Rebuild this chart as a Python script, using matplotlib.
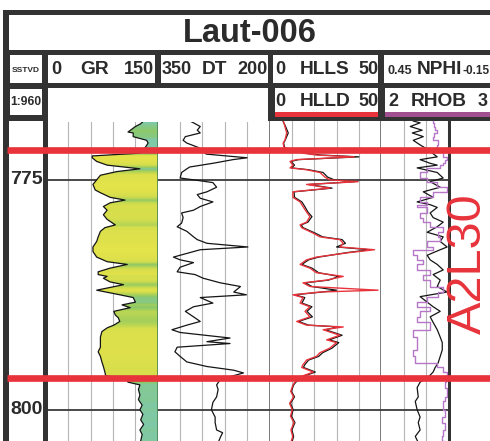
import numpy as np
import matplotlib
matplotlib.use("Agg")
import matplotlib.pyplot as plt
from matplotlib.patches import Rectangle
from matplotlib.colors import LinearSegmentedColormap, Normalize
from matplotlib import font_manager as fm

# ---------------- data ----------------
well_name = "Laut-006"
depth_ref = "SSTVD"
scale_label = "1:960"
depth_ticks = [775, 800]
depth_limits = [768.6, 803.4]
zone_name = "A2L30"
zone_tops = [771.7, 796.5]

gr_depth = [768.6, 768.9, 769.2, 769.5, 769.8, 769.9, 770.3, 770.7, 771.0, 771.5, 772.1, 772.4, 772.6, 773.0,
            773.4, 773.6, 773.8, 774.1, 774.5, 775.0, 775.5, 776.1, 776.4, 776.9, 777.2, 777.5, 777.9, 778.3,
            778.8, 779.3, 779.9, 780.2, 780.6, 781.2, 781.7, 782.3, 782.8, 783.4, 783.9, 784.2, 784.6, 785.0,
            785.3, 785.5, 785.7, 786.1, 786.4, 786.7, 787.0, 787.5, 787.8, 788.3, 788.6, 788.9, 789.3, 789.7,
            790.0, 790.4, 790.8, 791.1, 791.5, 792.1, 792.6, 793.2, 793.7, 794.2, 794.8, 795.3, 795.9, 796.3,
            796.7, 797.0, 797.3, 797.8, 798.4, 798.9, 799.5, 800.0, 800.5, 801.1, 801.6, 802.2, 802.7, 803.4]
gr = [131, 127, 120, 115, 110, 117, 117, 135, 137, 133, 125, 62, 62, 68, 82, 104, 126, 95, 73, 68, 63, 66,
      73, 86, 106, 86, 77, 82, 77, 82, 93, 79, 73, 70, 68, 63, 63, 68, 82, 109, 86, 70, 70, 82, 77, 86, 104,
      86, 68, 99, 117, 120, 102, 113, 91, 93, 97, 99, 91, 82, 75, 73, 73, 73, 70, 73, 75, 77, 79, 80, 108,
      110, 126, 124, 126, 124, 129, 126, 130, 127, 131, 126, 129, 127]

dt_depth = [768.6, 768.8, 769.2, 769.6, 769.9, 770.3, 770.7, 771.0, 771.5, 772.2, 772.6, 772.8, 773.2, 773.6,
            773.8, 774.2, 774.8, 775.1, 775.3, 775.8, 776.3, 776.6, 777.0, 777.4, 777.9, 778.3, 778.6, 779.1,
            779.7, 780.1, 780.6, 781.2, 781.5, 781.9, 782.3, 782.6, 783.4, 783.7, 784.0, 784.5, 785.0, 785.3,
            785.7, 786.2, 786.6, 787.2, 787.5, 787.8, 788.4, 788.8, 789.3, 789.9, 790.4, 790.8, 791.3, 791.6,
            792.2, 792.6, 792.8, 793.2, 793.7, 794.2, 794.8, 795.3, 795.7, 796.0, 796.7, 797.3, 797.8, 798.6,
            799.2, 800.0, 800.8, 801.4, 802.2, 802.5, 803.0, 803.4]
dt = [307, 302, 293, 297, 293, 313, 316, 311, 295, 285, 230, 249, 276, 307, 311, 318, 320, 293, 276, 271,
      284, 297, 293, 276, 293, 302, 318, 316, 318, 324, 311, 302, 297, 284, 229, 293, 329, 320, 302, 320,
      324, 300, 289, 266, 239, 248, 231, 293, 276, 302, 313, 302, 293, 311, 331, 320, 253, 284, 253, 324,
      327, 320, 311, 284, 248, 235, 266, 271, 269, 271, 276, 278, 273, 273, 271, 263, 266, 268]

res_depth = [768.6, 769.2, 769.9, 770.7, 771.0, 771.5, 772.1, 772.3, 772.5, 772.8, 773.0, 773.4, 773.7, 773.9,
             774.2, 774.7, 775.0, 775.2, 775.5, 775.9, 776.3, 776.9, 777.4, 777.9, 778.5, 779.0, 779.6, 779.9,
             780.2, 780.8, 781.2, 781.5, 781.9, 782.3, 782.6, 782.9, 783.4, 783.7, 784.2, 784.6, 785.1, 785.5,
             785.9, 786.2, 786.6, 787.0, 787.2, 787.5, 787.8, 788.4, 788.8, 789.3, 789.9, 790.4, 790.8, 791.0,
             791.3, 791.9, 792.4, 792.7, 793.3, 793.8, 794.2, 794.6, 795.1, 795.4, 795.9, 796.4, 797.0, 797.3,
             798.0, 798.6, 799.3, 800.0, 800.7, 801.4, 802.2, 802.9, 803.4]
hlld = [6.2, 6.9, 7.7, 6.9, 6.1, 6.5, 15, 21, 38, 12, 9.2, 10.5, 9.2, 16.6, 22.6, 24.8, 27, 39.7, 16.6, 27,
        10.5, 10.5, 13.7, 15, 16.6, 18.1, 16.6, 13.7, 14.4, 19.6, 22.6, 31.5, 33, 31.5, 47, 36, 21, 16.6, 13.7,
        18.1, 21, 33, 25.6, 15, 18.1, 48.6, 22.6, 10.5, 15, 13.7, 18.1, 15.9, 18.1, 12.2, 16.6, 33, 24, 31.5,
        25.6, 30, 27, 22.6, 21, 16.6, 15, 14.4, 19.6, 14, 11.4, 10.5, 9.5, 10.8, 9.0, 10.2, 9.4, 11.0, 9.6,
        10.4, 9.8]
hlls = [6.0, 7.2, 8.4, 7.0, 6.3, 6.8, 16, 23, 40, 13, 9.6, 11.2, 9.8, 17.5, 24.0, 26.0, 29, 38.0, 17.5, 28,
        11.0, 11.2, 14.5, 15.8, 17.2, 19.0, 17.2, 14.2, 15.0, 20.5, 23.8, 32.5, 34, 30.0, 45, 35, 22, 17.5,
        14.5, 19.0, 22, 31, 26.5, 16, 19.0, 30.0, 23.5, 11.2, 15.8, 14.5, 19.0, 16.8, 19.2, 13.0, 17.5, 31, 25,
        32.5, 26.8, 31, 28, 23.8, 22, 17.5, 15.8, 15.2, 20.5, 14.8, 11.8, 10.8, 9.8, 11.2, 9.4, 10.6, 9.8,
        11.4, 10.0, 10.8, 10.2]

nd_depth = [768.6, 768.8, 769.2, 769.6, 769.9, 770.3, 770.7, 771.2, 771.7, 772.5, 772.8, 773.2, 773.4, 773.7,
            774.2, 774.8, 775.2, 775.8, 776.3, 776.9, 777.4, 777.7, 778.0, 778.6, 779.1, 779.6, 780.1, 780.7,
            781.2, 781.7, 782.3, 782.6, 783.2, 783.7, 784.2, 784.8, 785.3, 785.9, 786.6, 787.2, 787.7, 788.3,
            788.8, 789.3, 789.9, 790.5, 791.3, 792.1, 792.7, 793.5, 794.2, 794.9, 795.4, 795.9, 796.5, 797.0,
            797.6, 798.6, 799.1, 800.0, 800.8, 801.4, 802.2, 802.9, 803.4]
nphi = [0.278, 0.241, 0.294, 0.230, 0.283, 0.224, 0.278, 0.241, 0.200, 0.149, 0.241, 0.187, 0.149, 0.257,
        0.149, 0.117, 0.187, 0.133, 0.224, 0.171, 0.257, 0.187, 0.149, 0.187, 0.171, 0.117, 0.149, 0.203,
        0.117, 0.133, 0.096, 0.133, 0.203, 0.187, 0.149, 0.117, 0.171, 0.133, 0.149, 0.096, 0.241, 0.203,
        0.171, 0.133, 0.187, 0.171, 0.149, 0.133, 0.122, 0.122, 0.133, 0.144, 0.160, 0.171, 0.200, 0.241,
        0.257, 0.251, 0.267, 0.257, 0.241, 0.251, 0.241, 0.267, 0.255]
rhob = [2.465, 2.47, 2.483, 2.501, 2.47, 2.465, 2.510, 2.501, 2.55, 2.591, 2.573, 2.555, 2.528, 2.412, 2.349,
        2.412, 2.501, 2.591, 2.465, 2.349, 2.412, 2.322, 2.412, 2.349, 2.376, 2.439, 2.555, 2.510, 2.528,
        2.412, 2.465, 2.286, 2.322, 2.376, 2.322, 2.439, 2.376, 2.439, 2.555, 2.510, 2.412, 2.322, 2.439,
        2.349, 2.322, 2.439, 2.286, 2.322, 2.322, 2.286, 2.304, 2.501, 2.555, 2.591, 2.58, 2.573, 2.591,
        2.573, 2.555, 2.573, 2.546, 2.573, 2.555, 2.546, 2.56]

# header labels: (left, name, right)
row1_labels = [("0", "GR", "150"), ("350", "DT", "200"), ("0", "HLLS", "50"), ("0.45", "NPHI", "-0.15")]
row2_labels = [("0", "HLLD", "50"), ("2", "RHOB", "3")]
gr_range = (0, 150)
dt_range = (350, 200)
res_range = (0, 50)
nphi_range = (0.45, -0.15)
rhob_range = (2, 3)

# ---------------- style ----------------
W, H = 490, 441
DARK = "#333333"
TXT = "#2b2b2b"
RED = "#e8333b"
PURPLE = "#a0508f"
RHOB_C = "#b677c9"
GRID = "#b5b5b5"

_names = {f.name for f in fm.fontManager.ttflist}
if "Liberation Sans Narrow" in _names:
    HF = ["Liberation Sans Narrow", "DejaVu Sans"]
    K = 1.2
else:
    HF = ["Liberation Sans", "DejaVu Sans"]
    K = 1.0

fig = plt.figure(figsize=(W / 100, H / 100), dpi=100)
fig.patch.set_facecolor("white")


def rect_px(x0, y0, x1, y1):
    return [x0 / W, 1 - y1 / H, (x1 - x0) / W, (y1 - y0) / H]


TOP, BOT = 121, 441
track_x = [46, 157.8, 269.5, 381.2, 492.9]


def make_track(x0, x1, xlim):
    ax = fig.add_axes(rect_px(x0, TOP, x1, BOT))
    ax.set_xlim(*xlim)
    ax.set_ylim(depth_limits[1], depth_limits[0])
    ax.set_axis_off()
    ax.set_zorder(1)
    for v in np.linspace(xlim[0], xlim[1], 6)[1:-1]:
        ax.axvline(v, color=GRID, lw=0.8, zorder=1)
    for d in depth_ticks:
        ax.axhline(d, color="#3a3a3a", lw=1.3, zorder=1.5)
    return ax


# GR track
ax_gr = make_track(track_x[0], track_x[1], gr_range)
gr_cmap = LinearSegmentedColormap.from_list(
    "grfill", [(0.0, "#e6e44a"), (0.3, "#d6de4c"), (0.55, "#a6d05a"), (0.75, "#8cc86c"), (1.0, "#7fc9a8")])
gr_norm = Normalize(60, 130)
dgrid = np.linspace(depth_limits[0], depth_limits[1], 900)
gval = np.interp(dgrid, gr_depth, gr)
rgba = gr_cmap(gr_norm(gval))[:, None, :]
im = ax_gr.imshow(rgba, extent=[gr_range[0], gr_range[1], depth_limits[1], depth_limits[0]],
                  aspect="auto", interpolation="nearest", zorder=2)
poly = ax_gr.fill_betweenx(gr_depth, gr, gr_range[1], facecolor="none", edgecolor="none")
im.set_clip_path(poly.get_paths()[0], ax_gr.transData)
ax_gr.plot(gr, gr_depth, color="#151515", lw=0.9, zorder=3)
ax_gr.axvline(gr_range[1], color="#3d7a4a", lw=1.1, zorder=3)
ax_gr.set_xlim(*gr_range)
ax_gr.set_ylim(depth_limits[1], depth_limits[0])

# DT track
ax_dt = make_track(track_x[1], track_x[2], dt_range)
ax_dt.plot(dt, dt_depth, color="#151515", lw=0.9, zorder=3)
ax_dt.axvline(dt_range[1], color="#555555", lw=1.1, zorder=1)

# Resistivity track
ax_res = make_track(track_x[2], track_x[3], res_range)
ax_res.plot(hlls, res_depth, color="#151515", lw=0.9, zorder=3)
ax_res.plot(hlld, res_depth, color=RED, lw=1.0, zorder=4)
ax_res.axvline(res_range[1], color="#555555", lw=1.1, zorder=1)

# Porosity / density track
ax_nphi = make_track(track_x[3], track_x[4], nphi_range)
ax_nphi.plot(nphi, nd_depth, color="#151515", lw=0.9, zorder=3)
ax_rhob = fig.add_axes(rect_px(track_x[3], TOP, track_x[4], BOT))
ax_rhob.set_xlim(*rhob_range)
ax_rhob.set_ylim(depth_limits[1], depth_limits[0])
ax_rhob.set_axis_off()
ax_rhob.set_zorder(1.1)
ax_rhob.plot(rhob, nd_depth, color=RHOB_C, lw=1.0, drawstyle="steps-pre")

# Depth column
ax_dep = fig.add_axes(rect_px(9, TOP, 43, BOT))
ax_dep.set_ylim(depth_limits[1], depth_limits[0])
ax_dep.set_axis_off()
ax_dep.set_zorder(6)
for d in depth_ticks:
    ax_dep.text(0.98, d, str(d), transform=ax_dep.get_yaxis_transform(), ha="right", va="center",
                fontsize=14 * K, fontweight="bold", family=HF, color=TXT)

# ---------------- frame / header ----------------
fr = fig.add_axes([0, 0, 1, 1])
fr.set_xlim(0, W)
fr.set_ylim(H, 0)
fr.set_axis_off()
fr.patch.set_alpha(0)
fr.set_zorder(5)


def box(x0, y0, x1, y1, c):
    fr.add_patch(Rectangle((x0, y0), x1 - x0, y1 - y0, facecolor=c, edgecolor="none"))


box(3, 10, 490, 121, DARK)
box(3, 10, 9, 441, DARK)
box(43, 50, 48, 441, DARK)
box(9, 15, 490, 50, "white")
row1_boxes = [(10, 55, 42, 83), (48, 55, 155, 83), (161, 55, 268, 83), (273, 55, 378, 83), (384, 55, 490, 83)]
for b in row1_boxes:
    box(*b, "white")
box(10, 89, 42, 115, "white")
box(48, 88, 268, 122, "white")
box(275, 88, 378, 112, "white")
box(275, 112, 378, 117, RED)
box(385, 88, 490, 112, "white")
box(385, 112, 490, 117, PURPLE)
box(448, 117, 450.5, 441, DARK)
box(450.5, 121, 490, 441, "white")


def htext(x, y, s, size):
    fr.text(x, y, s, ha="center", va="center", fontsize=size * K, fontweight="bold", family=HF, color=TXT)


htext(250, 33, well_name, 23.5)
htext(26, 70, depth_ref, 6)
htext(26, 102, scale_label, 8.7)

row1_pos = [(56, 95, 139), (177, 214, 252), (280, 325, 368), (400, 439, 476)]
for (l, n, r), (xl, xn, xr) in zip(row1_labels, row1_pos):
    small = "." in l
    htext(xl, 70.5 if small else 70, l, 9 if small else 13)
    htext(xn, 70, n, 13.8)
    htext(xr, 70.5 if small else 70, r, 8.5 if small else 13)

row2_pos = [(280, 325, 368), (393, 439, 483)]
for (l, n, r), (xl, xn, xr) in zip(row2_labels, row2_pos):
    htext(xl, 101, l, 13)
    htext(xn, 101, n, 13.8)
    htext(xr, 101, r, 13)

# ---------------- zone tops ----------------
zn = fig.add_axes(rect_px(0, TOP, W, BOT))
zn.set_xlim(0, W)
zn.set_ylim(depth_limits[1], depth_limits[0])
zn.set_axis_off()
zn.patch.set_alpha(0)
zn.set_zorder(10)
zn.hlines(zone_tops, 7, W, color=RED, lw=4.8)
zn.text(468, np.mean(zone_tops), zone_name, rotation=90, ha="center", va="center", fontsize=35,
        family=["Liberation Sans", "DejaVu Sans"], color=RED)

fig.savefig("out.png", dpi=100)
